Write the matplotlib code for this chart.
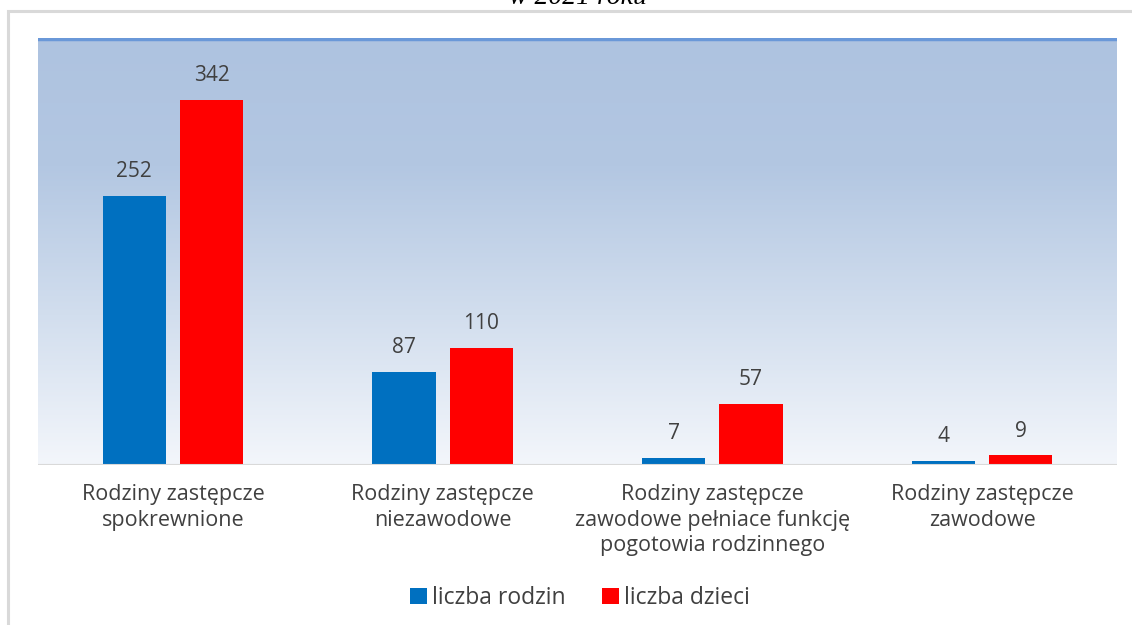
import numpy as np
import matplotlib
matplotlib.use("Agg")
import matplotlib.pyplot as plt
from matplotlib.colors import LinearSegmentedColormap
from matplotlib.patches import Rectangle

categories = ["Rodziny zastępcze\nspokrewnione",
              "Rodziny zastępcze\nniezawodowe",
              "Rodziny zastępcze\nzawodowe pełniace funkcję\npogotowia rodzinnego",
              "Rodziny zastępcze\nzawodowe"]
liczba_rodzin = [252, 87, 7, 4]
liczba_dzieci = [342, 110, 57, 9]
series_names = ["liczba rodzin", "liczba dzieci"]
title_text = "w 2021 roku"

W, H = 1132, 625
fig = plt.figure(figsize=(W / 100, H / 100), dpi=100)
fig.patch.set_facecolor("white")

# outer frame
fig.patches.append(Rectangle((8 / W, -0.1), 1.2, (H - 11) / H + 0.1,
                             transform=fig.transFigure, fill=False,
                             edgecolor="#d9d9d9", linewidth=2.2, zorder=0))

# cut-off title
fig.text(578 / W, 1.0 + 3 / H, title_text, ha="center", va="center",
         fontsize=20, style="italic", family="Liberation Serif", color="#000000")

left, right = 38 / W, 1117 / W
bottom, top = (H - 465) / H, (H - 38) / H
ax = fig.add_axes([left, bottom, right - left, top - bottom])
ax.set_xlim(-0.5, 3.5)
ax.set_ylim(0, 400)

# gradient background
cmap = LinearSegmentedColormap.from_list(
    "bg", [(0.0, "#f3f6fb"), (0.35, "#d2deee"), (0.7, "#b3c7e2"), (1.0, "#aec3e0")])
grad = np.linspace(0, 1, 256).reshape(-1, 1)
ax.imshow(grad, aspect="auto", cmap=cmap, origin="lower",
          extent=(-0.5, 3.5, 0, 400), zorder=0)
ax.axhline(399, color="#6a98d8", linewidth=2.5, zorder=1)

x = np.arange(len(categories))
off, w = 0.143, 0.235
b1 = ax.bar(x - off, liczba_rodzin, w, color="#0070c0", zorder=2, label=series_names[0])
b2 = ax.bar(x + off, liczba_dzieci, w, color="#ff0000", zorder=2, label=series_names[1])

txt = "#404040"
for bars in (b1, b2):
    for r in bars:
        ax.text(r.get_x() + r.get_width() / 2, r.get_height() + 13,
                f"{int(r.get_height())}", ha="center", va="bottom",
                fontsize=15, color=txt, family="Open Sans")

ax.axhline(0, color="#d9d9d9", linewidth=1.5, zorder=3)
for s in ax.spines.values():
    s.set_visible(False)
ax.set_yticks([])
ax.set_xticks(x)
ax.set_xticklabels(categories, fontsize=15.5, color=txt, family="Open Sans",
                   linespacing=1.27)
ax.tick_params(axis="x", length=0, pad=14)

leg = fig.legend(handles=[b1, b2], labels=series_names, loc="center",
                 bbox_to_anchor=(580 / W, 1 - 598 / H), ncol=2, frameon=False,
                 prop={"family": "Open Sans", "size": 16.5},
                 handlelength=0.75, handleheight=0.75, handletextpad=0.2,
                 columnspacing=1.6, labelcolor=txt)

fig.savefig("out.png", dpi=100, facecolor="white")
